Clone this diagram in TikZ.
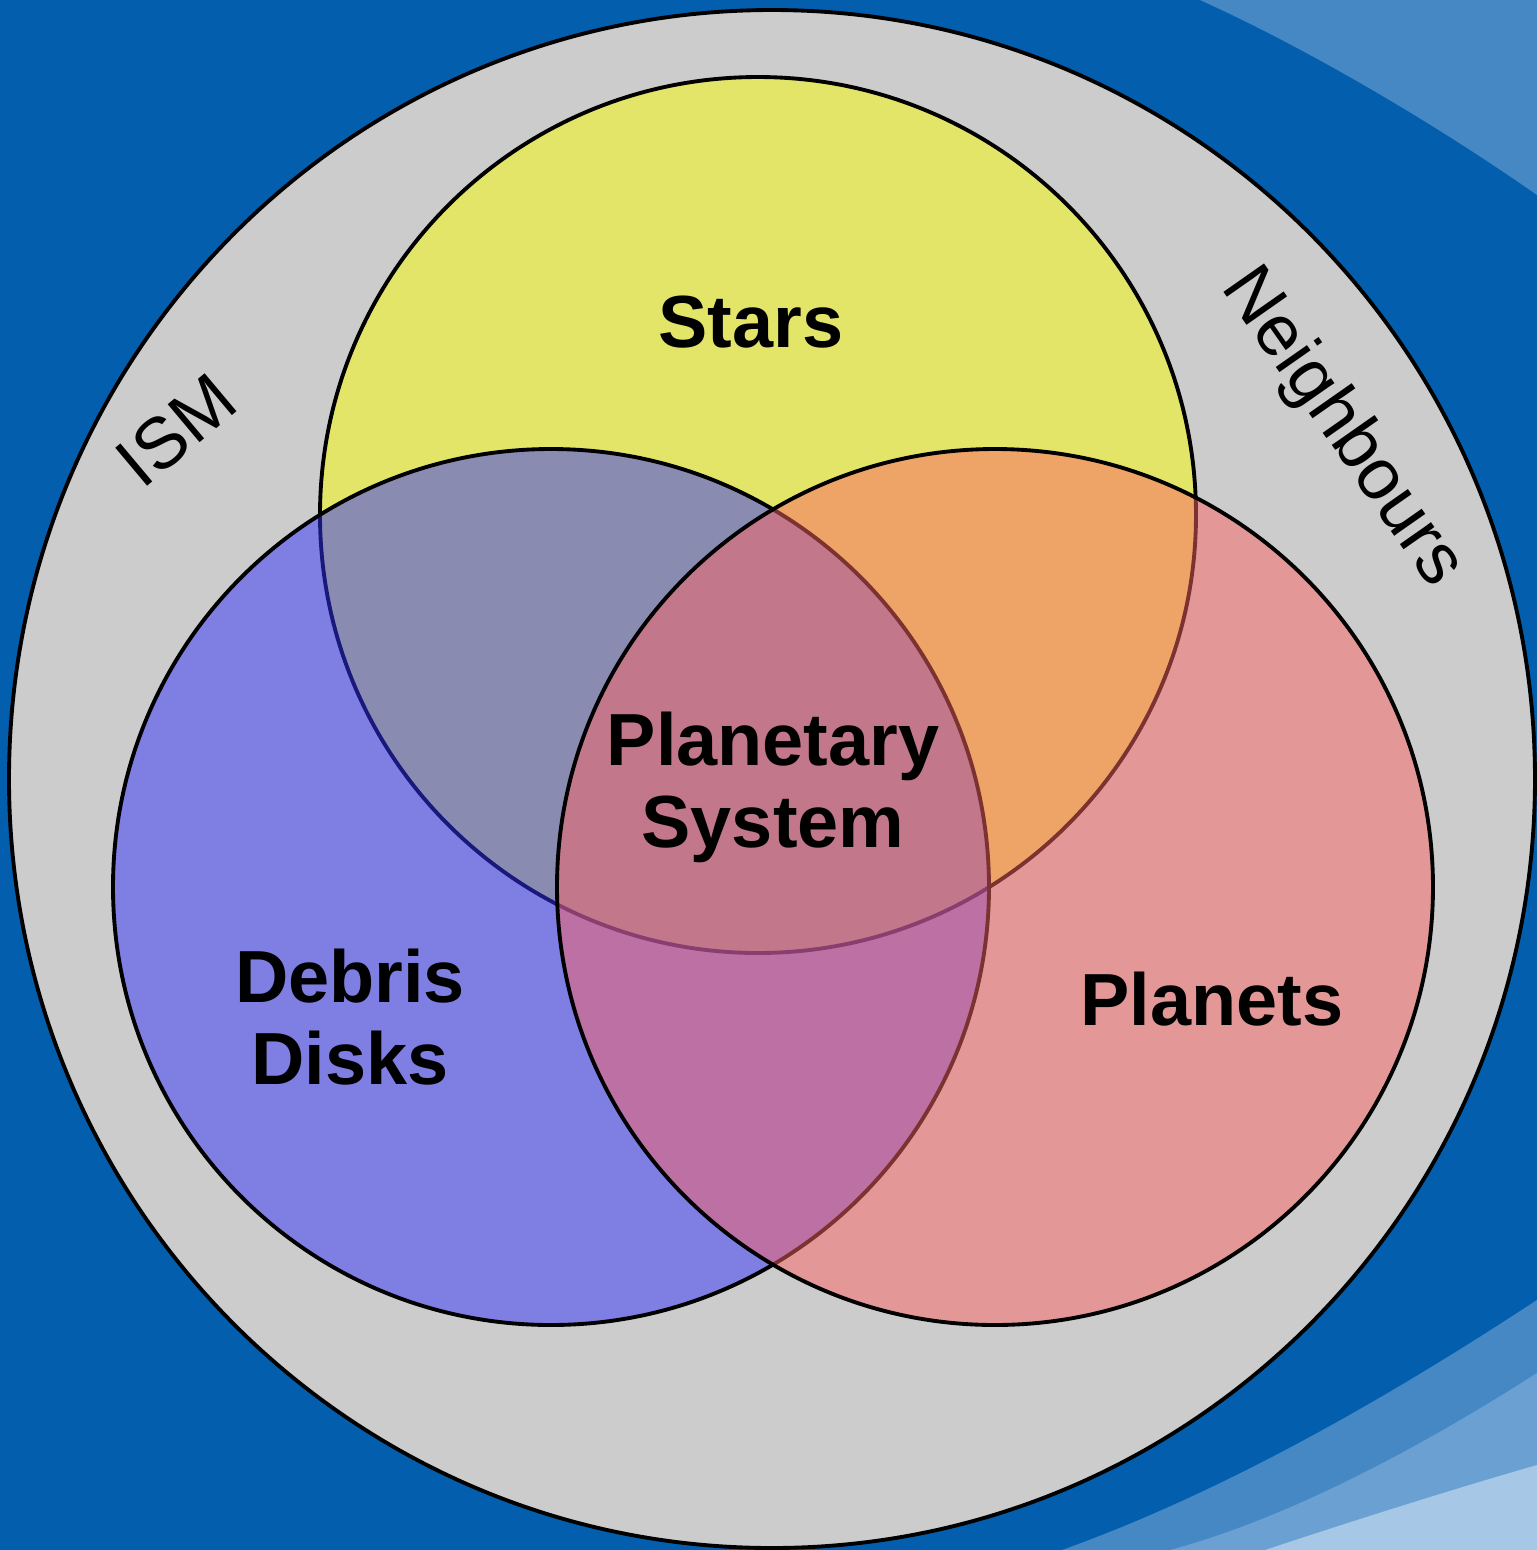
\documentclass[tikz,border=0pt]{standalone}
\usepackage{fontspec}
\setmainfont{Liberation Sans}
\definecolor{bgblue}{RGB}{3,95,174}
\definecolor{swoopA}{RGB}{70,136,196}
\definecolor{swoopB}{RGB}{106,160,210}
\definecolor{swoopC}{RGB}{166,199,230}
\definecolor{ringgray}{RGB}{204,204,204}
\definecolor{starsyellow}{RGB}{250,255,8}
\definecolor{debrisblue}{RGB}{50,50,250}
\definecolor{planetred}{RGB}{250,100,100}

\begin{document}
\begin{tikzpicture}[x=0.01cm,y=-0.01cm]
\tikzset{setc/.style={draw=black,line width=1.1pt,fill opacity=0.5},
  lab/.style={font=\fontsize{21}{23.5}\selectfont\bfseries,align=center,inner sep=0pt},
  ringlab/.style={font=\fontsize{20.5}{23}\selectfont,inner sep=0pt}}
% background with the light swooshes
\fill[bgblue] (0,0) rectangle (1537,1550);
\useasboundingbox (0,0) rectangle (1537,1550);
\fill[swoopA] (1200,0) .. controls (1300,45) and (1430,120) .. (1537,195) -- (1537,0) -- cycle;
\fill[swoopA] (1537,1300) .. controls (1400,1390) and (1230,1490) .. (1062,1550) -- (1537,1550) -- cycle;
\fill[swoopB] (1537,1373) .. controls (1440,1435) and (1300,1515) .. (1170,1550) -- (1537,1550) -- cycle;
\fill[swoopC] (1537,1465) .. controls (1450,1490) and (1340,1525) .. (1265,1550) -- (1537,1550) -- cycle;
% the outer ring and the three sets
\draw[fill=ringgray,line width=1.1pt] (772,779) ellipse [x radius=763,y radius=769];
\draw[setc,fill=starsyellow] (758,515) circle [radius=438];
\draw[setc,fill=debrisblue] (551,887) circle [radius=438];
\draw[setc,fill=planetred] (995,887) circle [radius=438];
% labels
\node[lab,anchor=base] (stars) at (751,347) {Stars};
\node[lab,anchor=north] (plsys) at (773,711) {Planetary\\System};
\node[lab,anchor=north] (debris) at (350,948) {Debris\\Disks};
\node[lab,anchor=base] (planets) at (1212,1025) {Planets};
\node[ringlab,rotate=40] (ism) at (176,430) {ISM};
\node[ringlab,rotate=-55] (neigh) at (1342,428) {Neighbours};
\end{tikzpicture}
\end{document}
